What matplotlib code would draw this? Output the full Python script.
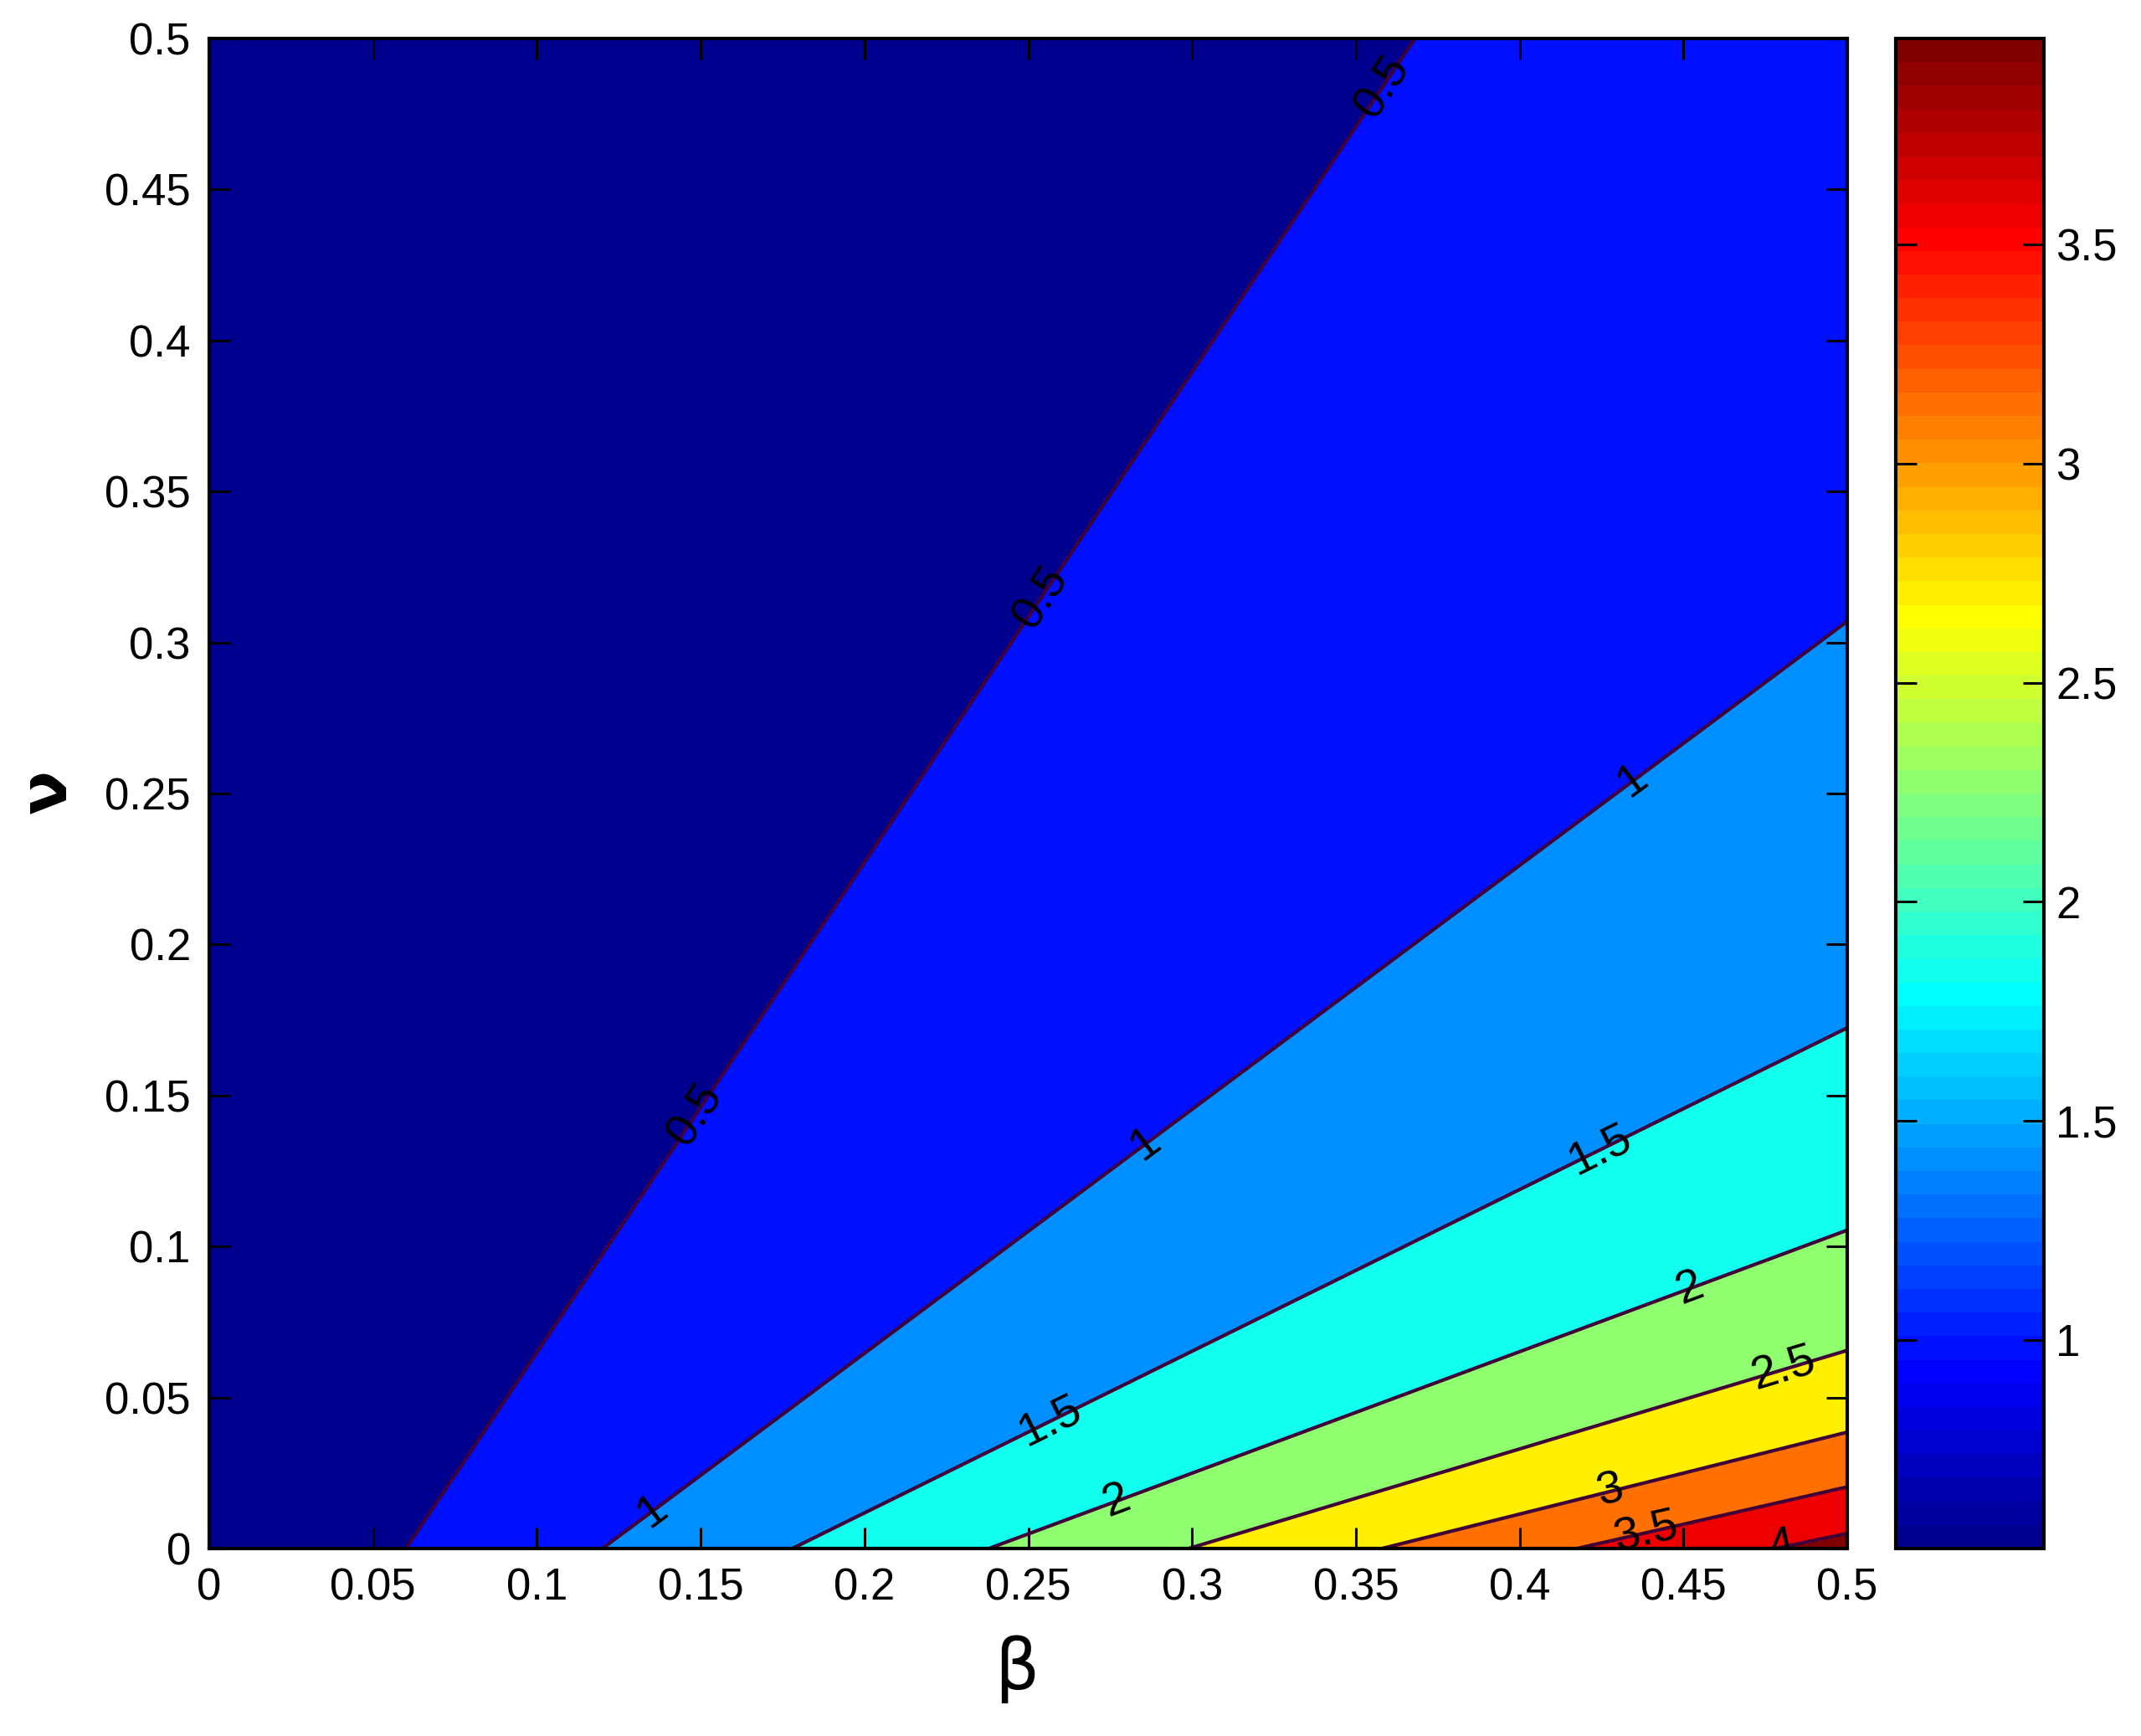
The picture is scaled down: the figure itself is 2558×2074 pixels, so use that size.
import numpy as np
import matplotlib
matplotlib.use("Agg")
import matplotlib.pyplot as plt
from matplotlib.colors import ListedColormap, Normalize
from matplotlib.cm import ScalarMappable

# ---- data ----
levels = [0.5, 1.0, 1.5, 2.0, 2.5, 3.0, 3.5, 4.0]
# where each contour line meets the bottom edge (nu = 0)
beta_at_nu0 = [0.060, 0.120, 0.178, 0.238, 0.299, 0.358, 0.4175, 0.478]
# where each contour line leaves the plot (top or right edge)
beta_far = [0.368, 0.5, 0.5, 0.5, 0.5, 0.5, 0.5, 0.5]
nu_far = [0.5, 0.307, 0.1724, 0.1054, 0.0656, 0.0385, 0.0204, 0.005]
# contour label positions (beta, nu)
label_pos = [(0.148, 0.144), (0.255, 0.314), (0.361, 0.482),
             (0.135, 0.013), (0.285, 0.135), (0.434, 0.255),
             (0.257, 0.042), (0.425, 0.131),
             (0.277, 0.015), (0.452, 0.086),
             (0.481, 0.058), (0.428, 0.018), (0.439, 0.004), (0.480, 0.0015)]
x_ticks = [0, 0.05, 0.1, 0.15, 0.2, 0.25, 0.3, 0.35, 0.4, 0.45, 0.5]
x_tick_labels = ["0", "0.05", "0.1", "0.15", "0.2", "0.25", "0.3", "0.35", "0.4", "0.45", "0.5"]
y_ticks = x_ticks
y_tick_labels = x_tick_labels
cbar_ticks = [1, 1.5, 2, 2.5, 3, 3.5]
cbar_tick_labels = ["1", "1.5", "2", "2.5", "3", "3.5"]
clim = (0.524, 3.97)


def matlab_jet(m=64):
    n = int(np.ceil(m / 4))
    u = np.concatenate([np.arange(1, n + 1) / n, np.ones(n - 1), np.arange(n, 0, -1) / n])
    g = int(np.ceil(n / 2)) - (1 if m % 4 == 1 else 0) + np.arange(1, len(u) + 1)
    r = g + n
    b = g - n
    J = np.zeros((m, 3))
    k = g <= m
    J[g[k] - 1, 1] = u[k]
    k = r <= m
    J[r[k] - 1, 0] = u[k]
    k = b >= 1
    J[b[k] - 1, 2] = u[b >= 1]
    return J


jet64 = matlab_jet(64)
fill_colors = [tuple(jet64[i]) for i in [0, 8, 16, 24, 32, 40, 48, 56, 63]]

# ---- build the field from the read contour lines ----
beta = np.linspace(0, 0.5, 601)
nu = np.linspace(0, 0.5, 601)
b0 = np.array(beta_at_nu0)
slopes = (np.array(beta_far) - b0) / np.array(nu_far)
Z = np.empty((len(nu), len(beta)))
for j, v in enumerate(nu):
    xs = b0 + v * slopes
    xp = np.concatenate([[0.0], xs])
    fp = np.concatenate([[0.0], levels])
    z = np.interp(beta, xp, fp)
    m = beta > xp[-1]
    sl = (fp[-1] - fp[-2]) / (xp[-1] - xp[-2])
    z[m] = fp[-1] + (beta[m] - xp[-1]) * sl
    Z[j] = z
B, N = np.meshgrid(beta, nu)

# ---- figure ----
W, H = 2558, 2074
fig = plt.figure(figsize=(W / 100, H / 100), dpi=100)
ax = fig.add_axes([250 / W, 1 - 1850 / H, (2207 - 250) / W, (1850 - 46) / H])

bounds = [-1.0] + levels + [10.0]
ax.contourf(B, N, Z, levels=bounds, colors=fill_colors)
cs = ax.contour(B, N, Z, levels=levels, colors="#400038", linewidths=3)
txts = ax.clabel(cs, levels, manual=label_pos, inline=False, fontsize=40,
                 colors="k", fmt=lambda v: f"{v:g}")
for t in txts:
    t.set_clip_on(True)
    t.set_family("Liberation Sans")

ax.set_xlim(0, 0.5)
ax.set_ylim(0, 0.5)
ax.set_xticks(x_ticks)
ax.set_xticklabels(x_tick_labels)
ax.set_yticks(y_ticks)
ax.set_yticklabels(y_tick_labels)
ax.tick_params(direction="in", top=True, right=True, length=18, width=2.2,
               labelsize=38, pad=16)
for lbl in ax.get_xticklabels() + ax.get_yticklabels():
    lbl.set_family("Liberation Sans")
for s in ax.spines.values():
    s.set_linewidth(3)

ax.set_xlabel("β", fontsize=60, family="DejaVu Sans")
ax.xaxis.set_label_coords((1215 - 250) / (2207 - 250), -(1994 - 1850) / (1850 - 46))
ax.xaxis.label.set_va("center")
ax.set_ylabel("ν", fontsize=56, family="DejaVu Sans", fontweight="bold")
ax.yaxis.set_label_coords(-(250 - 57) / (2207 - 250), (1850 - 946) / (1850 - 46))
ax.yaxis.label.set_va("center")

# ---- colorbar ----
cax = fig.add_axes([2265 / W, 1 - 1850 / H, (2442 - 2265) / W, (1850 - 46) / H])
sm = ScalarMappable(norm=Normalize(*clim), cmap=ListedColormap(jet64))
cb = fig.colorbar(sm, cax=cax, ticks=cbar_ticks)
cb.ax.set_yticklabels(cbar_tick_labels)
cb.ax.tick_params(direction="in", left=True, right=True, length=18, width=2.2,
                  labelsize=38, pad=10)
for lbl in cb.ax.get_yticklabels():
    lbl.set_family("Liberation Sans")
cb.outline.set_linewidth(3)

fig.savefig("out.png", dpi=100)
